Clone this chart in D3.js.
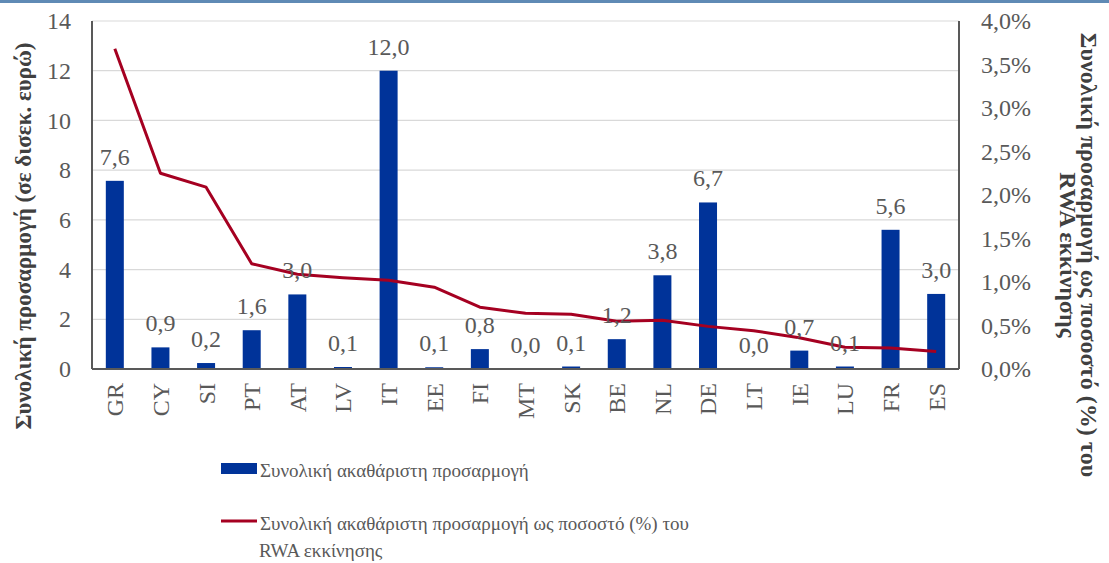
<!DOCTYPE html>
<html>
<head>
<meta charset="utf-8">
<script src="https://cdn.jsdelivr.net/npm/d3@7"></script>
<style>
  body { margin: 0; background: #fff; }
  svg { display: block; }
  svg text { font-family: 'Liberation Serif', 'Times New Roman', serif; }
</style>
</head>
<body>
<svg id="svg" width="1109" height="563"></svg>
<script>
"use strict";

// data
const countries = ["GR", "CY", "SI", "PT", "AT", "LV", "IT", "EE", "FI", "MT", "SK", "BE", "NL", "DE", "LT", "IE", "LU", "FR", "ES"];
const adjustment = [7.57, 0.87, 0.24, 1.56, 3.0, 0.08, 12.0, 0.07, 0.8, 0.02, 0.1, 1.2, 3.77, 6.7, 0.02, 0.74, 0.1, 5.6, 3.02];
const pctOfRwa = [3.68, 2.25, 2.09, 1.21, 1.09, 1.05, 1.02, 0.94, 0.71, 0.64, 0.63, 0.55, 0.56, 0.49, 0.44, 0.36, 0.25, 0.24, 0.20];
const leftTicks = [0, 2, 4, 6, 8, 10, 12, 14];
const rightTicks = [0, 0.5, 1, 1.5, 2, 2.5, 3, 3.5, 4];

const barLabel = "Συνολική ακαθάριστη προσαρμογή";
const lineLabel = ["Συνολική ακαθάριστη προσαρμογή ως ποσοστό (%) του", "RWA εκκίνησης"];
const leftTitle = "Συνολική προσαρμογή (σε δισεκ. ευρώ)";
const rightTitle = ["Συνολική προσαρμογή ως ποσοστό (%) του", "RWA εκκίνησης"];

const barColor = "#003399";
const lineColor = "#a50021";
const textColor = "#595959";
const fontName = "Liberation Serif";

var svg = d3.select("svg").attr("font-family", fontName);

const plotLeft = 92, plotRight = 959, plotTop = 21, plotBottom = 369;

var xc = d3.scalePoint().domain(countries).range([plotLeft, plotRight]).padding(0.5);
var y = d3.scaleLinear().domain([0, 14]).range([plotBottom, plotTop]);
var y2 = d3.scaleLinear().domain([0, 4]).range([plotBottom, plotTop]);

const comma = v => d3.format(".1f")(v).replace(".", ",");

// top border
svg.append("rect").attr("x", 0).attr("y", 0).attr("width", 1109).attr("height", 3).attr("fill", "#5f8ab5");

// gridlines
svg.append("g")
    .selectAll("line")
    .data(leftTicks.filter(d => d > 0))
    .enter()
    .append("line")
        .attr("x1", plotLeft).attr("x2", plotRight)
        .attr("y1", d => y(d)).attr("y2", d => y(d))
        .attr("stroke", "#d9d9d9").attr("stroke-width", 1.2);

// bars
svg.append("g")
    .selectAll("rect")
    .data(countries)
    .enter()
    .append("rect")
        .attr("x", d => xc(d) - 9)
        .attr("width", 18)
        .attr("y", (d, i) => y(adjustment[i]))
        .attr("height", (d, i) => plotBottom - y(adjustment[i]))
        .attr("fill", barColor);

// axes
var leftAxis = svg.append("g")
    .attr("transform", "translate(" + plotLeft + ",0)")
    .call(d3.axisLeft(y).tickValues(leftTicks).tickSize(0).tickPadding(21).tickFormat(d3.format("d")));
var rightAxis = svg.append("g")
    .attr("transform", "translate(" + plotRight + ",0)")
    .call(d3.axisRight(y2).tickValues(rightTicks).tickSize(0).tickPadding(22).tickFormat(d => comma(d) + "%"));
var bottomAxis = svg.append("g")
    .attr("transform", "translate(0," + plotBottom + ")")
    .call(d3.axisBottom(xc).tickSize(0).tickPadding(0));

[leftAxis, rightAxis, bottomAxis].forEach(a => {
    a.attr("font-family", fontName);
    a.select(".domain").attr("stroke", "#595959").attr("stroke-width", 2);
    a.selectAll("text")
        .attr("font-size", 24)
        .attr("fill", textColor);
});
leftAxis.select(".domain").attr("d", "M0," + plotTop + "V" + plotBottom);
rightAxis.select(".domain").attr("d", "M0," + plotTop + "V" + plotBottom);
bottomAxis.select(".domain").attr("d", "M" + plotLeft + ",0H" + plotRight);

bottomAxis.selectAll("text")
    .attr("text-anchor", "end")
    .attr("transform", "rotate(-90)")
    .attr("x", -14)
    .attr("y", 0)
    .attr("dy", "0.33em");

// line
var line = d3.line()
    .x((d, i) => xc(countries[i]))
    .y(d => y2(d));
svg.append("path")
    .datum(pctOfRwa)
    .attr("d", line)
    .attr("fill", "none")
    .attr("stroke", lineColor)
    .attr("stroke-width", 3)
    .attr("stroke-linejoin", "round");

// bar value labels
svg.append("g")
    .selectAll("text")
    .data(countries)
    .enter()
    .append("text")
        .attr("x", d => xc(d))
        .attr("y", (d, i) => y(adjustment[i]) - 16)
        .attr("text-anchor", "middle")
        .attr("font-size", 24)
        .attr("fill", textColor)
        .text((d, i) => comma(adjustment[i]));

// axis titles
svg.append("text")
    .attr("transform", "translate(31,236) rotate(-90)")
    .attr("text-anchor", "middle")
    .attr("font-size", 23)
    .attr("font-weight", "bold")
    .attr("fill", "#404040")
    .text(leftTitle);

svg.append("g")
    .attr("transform", "translate(1081,255) rotate(90)")
    .selectAll("text")
    .data(rightTitle)
    .enter()
    .append("text")
        .attr("x", 0)
        .attr("y", (d, i) => i * 21)
        .attr("text-anchor", "middle")
        .attr("font-size", 24)
        .attr("font-weight", "bold")
        .attr("fill", "#404040")
        .text(d => d);

// legend
var legend = svg.append("g");
legend.append("rect")
    .attr("x", 221).attr("y", 463).attr("width", 36).attr("height", 11)
    .attr("fill", barColor);
legend.append("text")
    .attr("x", 260).attr("y", 477)
    .attr("font-size", 19)
    .attr("fill", textColor)
    .text(barLabel);
legend.append("line")
    .attr("x1", 221).attr("x2", 257).attr("y1", 521).attr("y2", 521)
    .attr("stroke", lineColor).attr("stroke-width", 3);
legend.selectAll(".ll")
    .data(lineLabel)
    .enter()
    .append("text")
        .attr("class", "ll")
        .attr("x", (d, i) => i == 0 ? 260 : 259)
        .attr("y", (d, i) => 530 + i * 27)
        .attr("font-size", 19)
        .attr("fill", textColor)
        .text(d => d);
</script>
</body>
</html>
